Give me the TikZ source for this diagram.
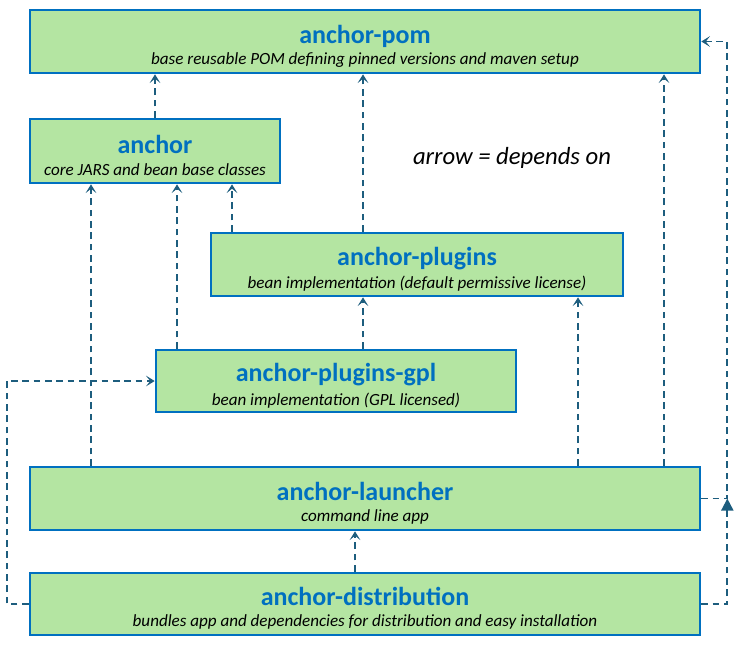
\documentclass[tikz,border=0pt]{standalone}
\usepackage{fontspec}
\setmainfont{Carlito}
\usetikzlibrary{arrows.meta, calc}
\definecolor{AnchorGreen}{HTML}{B4E5A2}
\definecolor{AnchorBlue}{HTML}{0070C0}
\definecolor{AnchorTeal}{HTML}{1D5D7E}
\newcommand{\modtitle}[1]{\rule{0pt}{20.5pt}\textcolor{AnchorBlue}{\fontsize{19.5}{22}\selectfont\bfseries #1}}
\newcommand{\modsub}[1]{\\[4pt]{\fontsize{12.8}{15}\selectfont\itshape #1}}

\begin{document}
\begin{tikzpicture}[x=0.75pt, y=-0.75pt,
    box/.style={draw=AnchorBlue, line width=2pt, fill=AnchorGreen, align=center, inner sep=0pt},
    dep/.style={AnchorTeal, line width=1.4pt, dash pattern=on 5pt off 3.5pt, -{Stealth[length=6.5pt, width=8pt, inset=3.2pt]}},
    merge/.style={AnchorTeal, line width=1.4pt, dash pattern=on 5pt off 3.5pt, -{Triangle[length=9pt, width=9pt]}}]
    \useasboundingbox (0,0) rectangle (735,647);
    % Modules
    \node[box, minimum width=502.5pt, minimum height=47.25pt] (pom) at (365, 41.5)
        {\modtitle{anchor-pom}\modsub{base reusable POM defining pinned versions and maven setup}};
    \node[box, minimum width=187.5pt, minimum height=48pt] (anchor) at (155, 151)
        {\modtitle{anchor}\modsub{core JARS and bean base classes}};
    \node[box, minimum width=309pt, minimum height=47.25pt] (plugins) at (417, 264.5)
        {\modtitle{anchor-plugins}\modsub{bean implementation (default permissive license)}};
    \node[box, minimum width=270pt, minimum height=46.5pt] (gpl) at (336, 381)
        {\modtitle{anchor-plugins-gpl}\modsub{bean implementation (GPL licensed)}};
    \node[box, minimum width=502.5pt, minimum height=47.25pt] (launcher) at (365, 498.5)
        {\modtitle{anchor-launcher}\modsub{command line app}};
    \node[box, minimum width=502.5pt, minimum height=46.5pt] (distribution) at (365, 604)
        {\modtitle{anchor-distribution}\modsub{bundles app and dependencies for distribution and easy installation}};

    % Legend
    \node[font=\fontsize{18.5}{22}\selectfont\itshape] (legend) at (512, 158) {arrow = depends on};

    % Arrows
    \draw[dep] (anchor.north) -- (anchor.north |- pom.south);
    \draw[dep] (plugins.north -| 363,0) -- (pom.south -| 363,0);
    \draw[dep] (launcher.north -| 664,0) -- (pom.south -| 664,0);
    \draw[dep] (plugins.north -| 232,0) -- (anchor.south -| 232,0);
    \draw[dep] (gpl.north -| 177,0) -- (anchor.south -| 177,0);
    \draw[dep] (launcher.north -| 91,0) -- (anchor.south -| 91,0);
    \draw[dep] (gpl.north -| 363,0) -- (plugins.south -| 363,0);
    \draw[dep] (launcher.north -| 578,0) -- (plugins.south -| 578,0);
    \draw[dep] (distribution.north -| 355,0) -- (launcher.south -| 355,0);
    \draw[dep] (launcher.east) -- ++(26,0) |- (pom.east);
    \draw[dep] (distribution.west) -- ++(-22,0) |- (gpl.west);
    \coordinate (join) at ($(launcher.east)+(26,0)$);
    \draw[merge] (distribution.east) -| (join);
\end{tikzpicture}
\end{document}
